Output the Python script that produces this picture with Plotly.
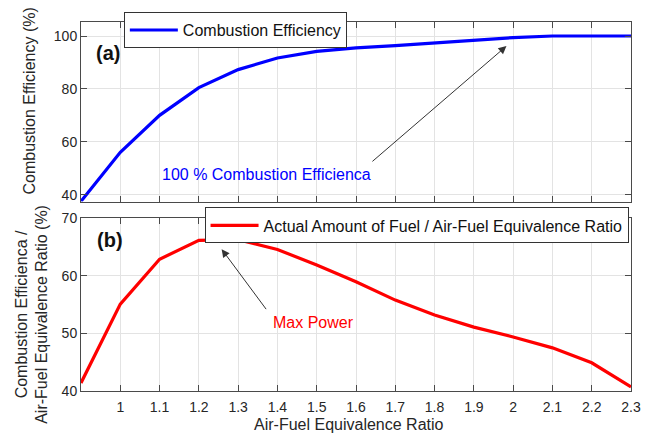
import plotly.graph_objects as go

# ---- data ----
afr = [0.9, 1.0, 1.1, 1.2, 1.3, 1.4, 1.5, 1.6, 1.7, 1.8, 1.9, 2.0, 2.1, 2.2, 2.3]
comb_eff = [37.5, 56.0, 70.0, 80.5, 87.3, 91.7, 94.2, 95.5, 96.4, 97.4, 98.3, 99.4, 100.0, 100.0, 100.0]
fuel_ratio = [41.4, 55.1, 62.9, 66.2, 66.3, 64.6, 61.9, 59.0, 55.8, 53.2, 51.1, 49.4, 47.5, 44.9, 40.7]
x_ticks = [1.0, 1.1, 1.2, 1.3, 1.4, 1.5, 1.6, 1.7, 1.8, 1.9, 2.0, 2.1, 2.2, 2.3]
x_tick_text = ["1", "1.1", "1.2", "1.3", "1.4", "1.5", "1.6", "1.7", "1.8", "1.9", "2", "2.1", "2.2", "2.3"]
y_ticks_a = [40, 60, 80, 100]
y_ticks_b = [40, 50, 60, 70]

FONT = "Liberation Sans, Arial, sans-serif"
AXC = "#4a4a4a"
GRID = "#e3e3e3"
TXT = "#262626"

fig = go.Figure()
fig.add_trace(go.Scatter(x=afr, y=comb_eff, mode="lines", name="Combustion Efficiency",
                         line=dict(color="#0000ff", width=3.2), xaxis="x", yaxis="y",
                         legend="legend"))
fig.add_trace(go.Scatter(x=afr, y=fuel_ratio, mode="lines",
                         name="Actual Amount of Fuel / Air-Fuel Equivalence Ratio",
                         line=dict(color="#ff0000", width=3.2), xaxis="x2", yaxis="y2",
                         legend="legend2"))

axis_common = dict(showline=True, linecolor=AXC, linewidth=1, mirror="ticks",
                   ticks="inside", ticklen=6, tickcolor=AXC, showgrid=True,
                   gridcolor=GRID, gridwidth=1, zeroline=False,
                   tickfont=dict(family=FONT, size=14, color=TXT))

fig.update_layout(
    width=653, height=434,
    margin=dict(l=81, r=20, t=19, b=43),
    paper_bgcolor="white", plot_bgcolor="white",
    font=dict(family=FONT, size=16, color=TXT),
    xaxis=dict(domain=[0, 1], range=[0.9, 2.3], tickvals=x_ticks,
               showticklabels=False, anchor="y", **axis_common),
    yaxis=dict(domain=[0.5134, 1], range=[37.4, 105.3], tickvals=y_ticks_a,
               anchor="x", **axis_common),
    xaxis2=dict(domain=[0, 1], range=[0.9, 2.3], tickvals=x_ticks, ticktext=x_tick_text,
                anchor="y2", ticklabelstandoff=3, **axis_common),
    yaxis2=dict(domain=[0, 0.4677], range=[40, 70], tickvals=y_ticks_b, anchor="x2",
                **axis_common),
    legend=dict(x=(124 - 81) / 552, y=(391 - 9) / 372, xanchor="left", yanchor="top",
                bgcolor="white", bordercolor="#333333", borderwidth=1,
                font=dict(family=FONT, size=16, color="#111111"),
                itemwidth=48, tracegroupgap=0),
    legend2=dict(x=(205 - 81) / 552, y=(391 - 206) / 372, xanchor="left", yanchor="top",
                 bgcolor="white", bordercolor="#333333", borderwidth=1,
                 font=dict(family=FONT, size=16, color="#111111"),
                 itemwidth=48, tracegroupgap=0),
    showlegend=True,
)

annotations = [
    # axis titles
    dict(text="Combustion Efficiency (%)", x=(29 - 81) / 552, y=(391 - 99) / 372,
         xref="paper", yref="paper", textangle=-90, showarrow=False,
         xanchor="center", yanchor="middle", font=dict(family=FONT, size=16, color=TXT)),
    dict(text="Combustion Efficienca /<br>Air-Fuel Equivalence Ratio (%)",
         x=(31 - 81) / 552, y=(391 - 314) / 372,
         xref="paper", yref="paper", textangle=-90, showarrow=False,
         xanchor="center", yanchor="middle", font=dict(family=FONT, size=16, color=TXT)),
    dict(text="Air-Fuel Equivalence Ratio", x=(350 - 81) / 552, y=(391 - 425) / 372,
         xref="paper", yref="paper", showarrow=False,
         xanchor="center", yanchor="middle", font=dict(family=FONT, size=16, color=TXT)),
    # panel labels
    dict(text="<b>(a)</b>", x=0.968, y=93.4, xref="x", yref="y", showarrow=False,
         font=dict(family=FONT, size=20, color="#111111"), xanchor="center", yanchor="middle"),
    dict(text="<b>(b)</b>", x=0.974, y=66.2, xref="x2", yref="y2", showarrow=False,
         font=dict(family=FONT, size=20, color="#111111"), xanchor="center", yanchor="middle"),
    # callouts
    dict(text="100 % Combustion Efficienca", x=1.372, y=47.6, xref="x", yref="y",
         showarrow=False, font=dict(family=FONT, size=16, color="#0000ff")),
    dict(text="", x=1.983, y=96.2, ax=1.638, ay=52.1, xref="x", yref="y",
         axref="x", ayref="y", showarrow=True, arrowhead=2, arrowsize=1.6,
         arrowwidth=1, arrowcolor="#333333"),
    dict(text="Max Power", x=1.491, y=51.9, xref="x2", yref="y2",
         showarrow=False, font=dict(family=FONT, size=16, color="#ff0000")),
    dict(text="", x=1.258, y=64.66, ax=1.374, ay=53.97, xref="x2", yref="y2",
         axref="x2", ayref="y2", showarrow=True, arrowhead=2, arrowsize=1.6,
         arrowwidth=1, arrowcolor="#333333"),
]
fig.update_layout(annotations=annotations)

fig.write_html("out.html")
